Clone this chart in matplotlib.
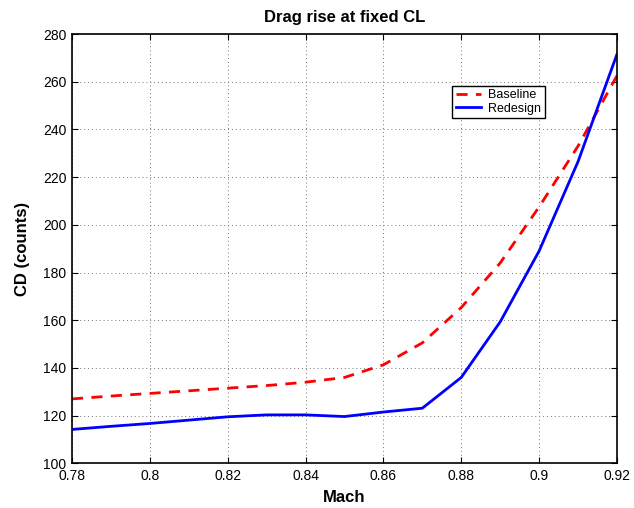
import matplotlib
matplotlib.use("Agg")
import matplotlib.pyplot as plt

plt.rcParams['font.family'] = ['Liberation Sans', 'DejaVu Sans']

mach = [0.78, 0.79, 0.80, 0.81, 0.82, 0.83, 0.84, 0.85, 0.86, 0.87, 0.88, 0.89, 0.90, 0.91, 0.92]
baseline = [127.0, 128.2, 129.3, 130.4, 131.5, 132.6, 134.0, 136.0, 141.3, 150.5, 165.3, 184.0, 207.5, 233.0, 262.5]
redesign = [114.2, 115.5, 116.7, 118.1, 119.5, 120.3, 120.3, 119.6, 121.5, 123.1, 136.0, 159.3, 189.0, 226.5, 271.5]

fig = plt.figure(figsize=(6.34, 5.08), dpi=100)
ax = fig.add_axes([0.1136, 0.088, 0.8595, 0.845])

ax.plot(mach, baseline, '--', color='#ff0000', lw=2, dashes=(4, 3), label='Baseline')
ax.plot(mach, redesign, '-', color='#0000ff', lw=2, label='Redesign')

ax.set_xlim(0.78, 0.92)
ax.set_ylim(100, 280)
ax.set_xticks([0.78, 0.8, 0.82, 0.84, 0.86, 0.88, 0.9, 0.92])
ax.set_xticklabels(['0.78', '0.8', '0.82', '0.84', '0.86', '0.88', '0.9', '0.92'])
ax.set_yticks(range(100, 281, 20))

ax.grid(True, linestyle=(0, (1, 3)), color='#777777', lw=0.7)
ax.tick_params(direction='in', top=True, right=True, labelsize=10, length=4, pad=4)
for s in ax.spines.values():
    s.set_linewidth(1.2)

ax.set_title('Drag rise at fixed CL', fontsize=12, fontweight='bold', pad=9)
ax.set_xlabel('Mach', fontsize=12, fontweight='bold', labelpad=5)
ax.set_ylabel('CD (counts)', fontsize=12, fontweight='bold', labelpad=9)

leg = ax.legend(loc='upper left', bbox_to_anchor=(0.697, 0.88), fontsize=9,
                fancybox=False, framealpha=1, edgecolor='black',
                handlelength=2.0, handletextpad=0.6, borderpad=0.3,
                labelspacing=0.1, borderaxespad=0)
leg.get_frame().set_linewidth(1)

fig.savefig('out.png', dpi=100)
